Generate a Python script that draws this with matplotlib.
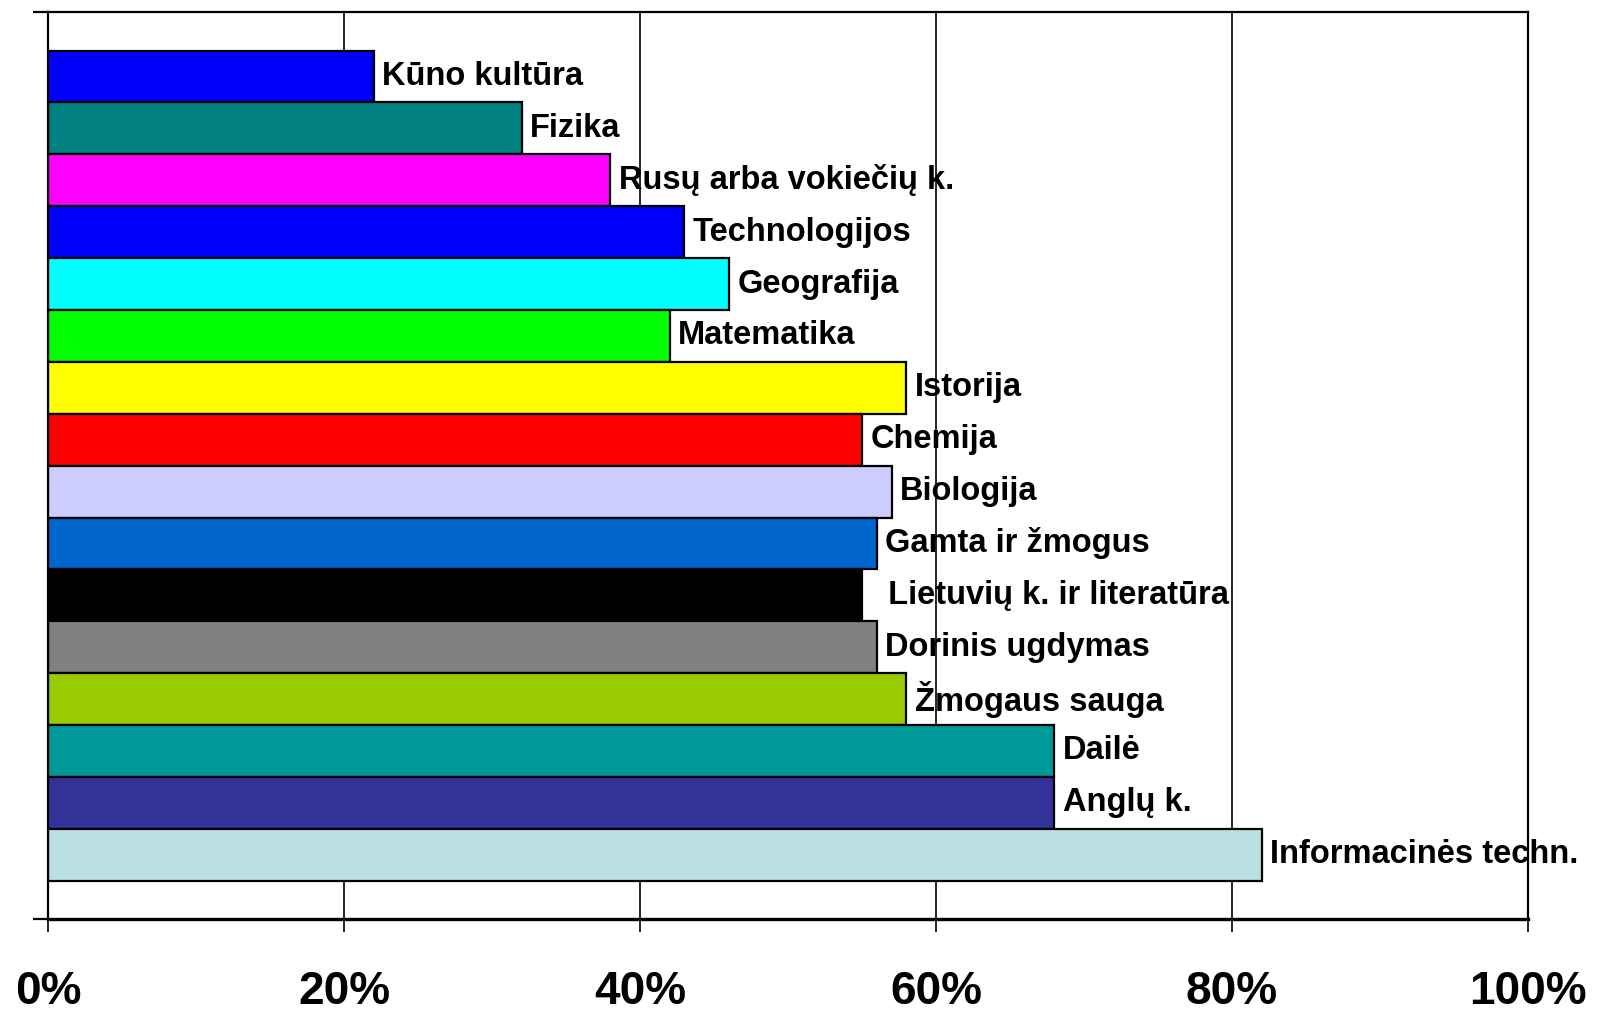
import matplotlib.pyplot as plt
from matplotlib import font_manager

# subjects, top to bottom
subjects = ['Kūno kultūra', 'Fizika', 'Rusų arba vokiečių k.', 'Technologijos',
            'Geografija', 'Matematika', 'Istorija', 'Chemija', 'Biologija',
            'Gamta ir žmogus', '  Lietuvių k. ir literatūra', 'Dorinis ugdymas',
            'Žmogaus sauga', 'Dailė', 'Anglų k.', 'Informacinės techn.']
# share, %
values = [22, 32, 38, 43, 46, 42, 58, 55, 57, 56, 55, 56, 58, 68, 68, 82]
colors = ['#0000FF', '#008080', '#FF00FF', '#0000FF', '#00FFFF', '#00FF00',
          '#FFFF00', '#FF0000', '#CCCCFF', '#0066CC', '#000000', '#808080',
          '#99CC00', '#009999', '#333399', '#BBE0E3']
xticks = [0, 20, 40, 60, 80, 100]
xticklabels = ['0%', '20%', '40%', '60%', '80%', '100%']

plt.rcParams['font.family'] = ['Liberation Sans', 'DejaVu Sans']

# narrow face for the axis numbers if it is there
names = {f.name for f in font_manager.fontManager.ttflist}
if 'Liberation Sans Narrow' in names:
    tick_font, tick_size = 'Liberation Sans Narrow', 37
else:
    tick_font, tick_size = 'Liberation Sans', 33

fig = plt.figure(figsize=(16.01, 10.14), dpi=100)
ax = fig.add_axes([0.030, 0.0937, 0.9244, 0.8942])

n = len(values)
gap = 0.738
ypos = list(range(n))

# gridlines behind bars
for x in xticks[1:-1]:
    ax.axvline(x, color='black', lw=1.2, zorder=0)

ax.barh(ypos, values, height=1.0, color=colors, edgecolor='black',
        linewidth=1.6, zorder=2)

for y, v, s in zip(ypos, values, subjects):
    ax.annotate(s, (v, y), xytext=(6, 0), textcoords='offset points',
                ha='left', va='center', fontsize=23.5, fontweight='bold',
                zorder=3)

ax.set_xlim(0, 100)
ax.set_ylim(n - 0.5 + gap, -0.5 - gap)

ax.set_xticks(xticks)
ax.set_xticklabels(xticklabels, fontsize=tick_size, fontweight='bold',
                   family=tick_font)
ax.tick_params(axis='x', direction='out', length=9, width=1.2, pad=28)
ax.set_yticks([-0.5 - gap, n - 0.5 + gap])
ax.set_yticklabels(['', ''])
ax.tick_params(axis='y', direction='out', length=11, width=1.6)

for side in ['left', 'top', 'right']:
    ax.spines[side].set_linewidth(1.6)
ax.spines['bottom'].set_linewidth(2.4)

plt.savefig('out.png', dpi=100)
